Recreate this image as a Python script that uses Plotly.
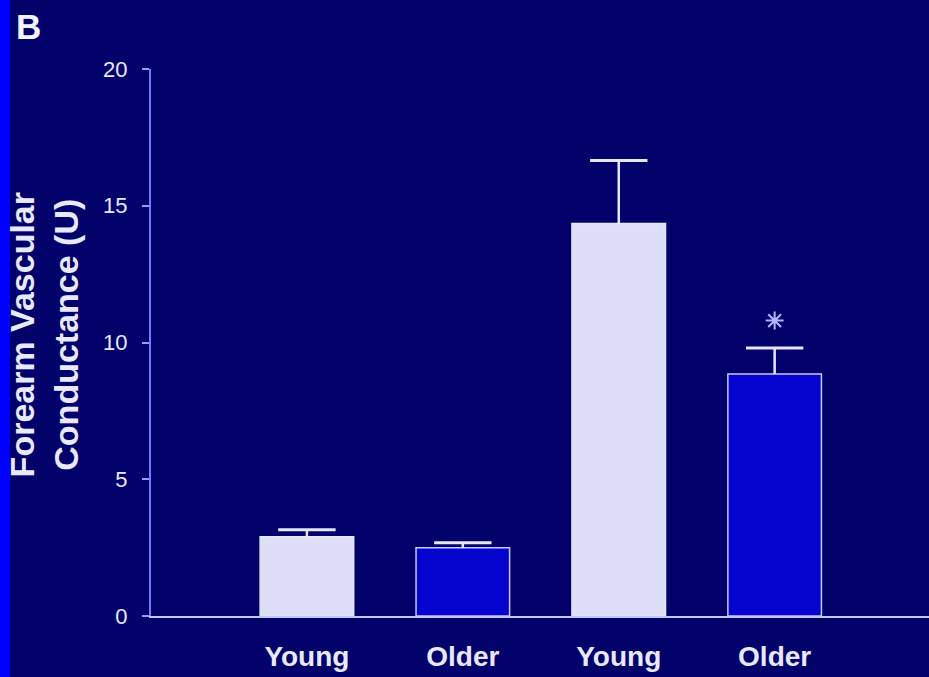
import plotly.graph_objects as go

# ---- data ----
groups = ["Young", "Older", "Young", "Older"]
conductance = [2.9, 2.5, 14.35, 8.85]
sem = [0.25, 0.18, 2.3, 0.95]
significance = [False, False, False, True]
y_ticks = [0, 5, 10, 15, 20]

bar_fill = ["#dedef9", "#0505cf", "#dedef9", "#0505cf"]
bar_line = ["#e6e6ff", "#c8c8ff", "#e6e6ff", "#c8c8ff"]

BG = "#02026a"
TXT = "#e8e8ff"
ERR = "#e6e6ff"
FONT = "Arial, Liberation Sans, sans-serif"

W, H = 929, 677
L, R, T, B = 151, 0, 69, 61
pw = W - L - R

xs = list(range(len(groups)))
err_top = [v + e for v, e in zip(conductance, sem)]

fig = go.Figure()
fig.add_trace(go.Bar(
    x=xs, y=conductance, width=0.6,
    marker=dict(color=bar_fill, line=dict(color=bar_line, width=1.5)),
    error_y=dict(type="data", array=sem, arrayminus=[0] * len(sem),
                 symmetric=False, color=ERR, thickness=2.5, width=0),
    showlegend=False, hoverinfo="skip",
))
# error-bar caps
fig.add_trace(go.Scatter(
    x=xs, y=err_top, mode="markers",
    marker=dict(symbol="line-ew-open", size=41, color=ERR,
                line=dict(color=ERR, width=3)),
    showlegend=False, hoverinfo="skip",
))

sig_x = [x for x, s in zip(xs, significance) if s]
sig_y = [t + 1.0 for t, s in zip(err_top, significance) if s]
fig.add_trace(go.Scatter(
    x=sig_x, y=sig_y, mode="markers",
    marker=dict(symbol="asterisk-open", size=15, color="#b4b4ff",
                line=dict(color="#b4b4ff", width=2)),
    showlegend=False, hoverinfo="skip",
))

annotations = []
annotations.append(dict(
    x=(44 - L) / pw, y=0.513, xref="paper", yref="paper",
    text="<b>Forearm Vascular<br>Conductance (U)</b>", textangle=-90,
    showarrow=False, xanchor="center", yanchor="middle",
    font=dict(family=FONT, size=34, color=TXT)))
annotations.append(dict(
    x=(14 - L) / pw, y=1 + (69 - 26) / (H - T - B), xref="paper", yref="paper",
    text="<b>B</b>", showarrow=False, xanchor="left", yanchor="middle",
    font=dict(family=FONT, size=35, color="#f4f4ff")))

fig.update_layout(
    width=W, height=H,
    margin=dict(l=L, r=R, t=T, b=B, pad=0),
    paper_bgcolor=BG, plot_bgcolor=BG,
    annotations=annotations,
    shapes=[dict(type="rect", xref="paper", yref="paper",
                 x0=-L / pw, x1=(10 - L) / pw, y0=-2, y1=3,
                 fillcolor="#0000ff", line=dict(width=0), layer="below")],
    xaxis=dict(range=[-1.0, 3.99], tickvals=xs, ticktext=groups,
               showgrid=False, zeroline=False, showline=True,
               linecolor="#c4c4ff", linewidth=2, ticks="",
               tickfont=dict(family=FONT, size=28, color=TXT, weight="bold"),
               ticklabelstandoff=14),
    yaxis=dict(range=[0, 20], tickvals=y_ticks, showgrid=False, zeroline=False,
               showline=True, linecolor="#7878ff", linewidth=2,
               ticks="outside", ticklen=7, tickwidth=1.5, tickcolor="#9a9aff",
               tickfont=dict(family=FONT, size=22, color=TXT),
               ticklabelstandoff=10),
)

fig.write_html("out.html", config={"displayModeBar": False},
               post_script="document.body.style.margin='0';document.body.style.background='%s';" % BG)
